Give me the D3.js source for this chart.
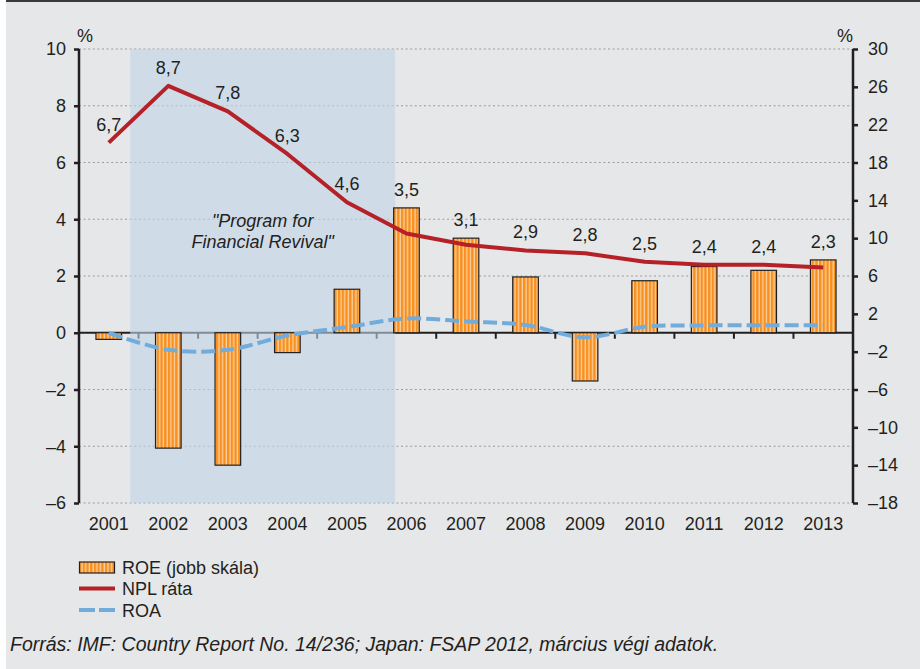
<!DOCTYPE html>
<html>
<head>
<meta charset="utf-8">
<script src="https://cdn.jsdelivr.net/npm/d3@7"></script>
<style>
  body { margin: 0; background: #ffffff; }
  svg { display: block; font-family: "Liberation Sans", Arial, sans-serif; }
</style>
</head>
<body>
<div id="chart"></div>
<script>
// ==== Data ====
const years = [2001, 2002, 2003, 2004, 2005, 2006, 2007, 2008, 2009, 2010, 2011, 2012, 2013];
const roe = [-0.7, -12.2, -14.0, -2.1, 4.6, 13.2, 10.0, 5.9, -5.1, 5.5, 7.0, 6.6, 7.7];   // right scale
const npl = [6.7, 8.7, 7.8, 6.3, 4.6, 3.5, 3.1, 2.9, 2.8, 2.5, 2.4, 2.4, 2.3];           // left scale
const roa = [0.0, -0.6, -0.6, -0.1, 0.2, 0.5, 0.4, 0.27, -0.16, 0.21, 0.26, 0.26, 0.26];  // left scale
const leftTicks = [10, 8, 6, 4, 2, 0, -2, -4, -6];
const rightTicks = [30, 26, 22, 18, 14, 10, 6, 2, -2, -6, -10, -14, -18];
const revivalPeriod = [2001.36, 2005.81];
const revivalLabel = ["\"Program for", "Financial Revival\""];
const legendItems = ["ROE (jobb skála)", "NPL ráta", "ROA"];
const sourceText = "Forrás: IMF: Country Report No. 14/236; Japan: FSAP 2012, március végi adatok.";

// ==== Setup ====
const W = 920, H = 669;
const margin = { top: 49, right: 67, bottom: 166, left: 79 };
const width = W - margin.left - margin.right;
const height = H - margin.top - margin.bottom;
const ink = "#231f20";
const font = "'Liberation Sans', Arial, sans-serif";
const fs = 18;

const root = d3.select("#chart").append("svg")
    .attr("width", W)
    .attr("height", H);

root.append("rect").attr("x", 6).attr("y", 0).attr("width", W - 6).attr("height", H).attr("fill", "#e6e7e9");
root.append("rect").attr("x", 6).attr("y", 0).attr("width", W - 6).attr("height", 2).attr("fill", "#3a3a3c");

const defs = root.append("defs");
const pat = defs.append("pattern")
    .attr("id", "stripes")
    .attr("patternUnits", "userSpaceOnUse")
    .attr("width", 3.7).attr("height", 10);
pat.append("rect").attr("width", 3.7).attr("height", 10).attr("fill", "#f7901e");
pat.append("rect").attr("x", 2.4).attr("width", 1.3).attr("height", 10).attr("fill", "#fcd1a2");

const svg = root.append("g").attr("transform", `translate(${margin.left},${margin.top})`);

// ==== Scales ====
const x = d3.scaleBand().domain(years).range([0, width]).paddingInner(0.57).paddingOuter(0.285);
const xYear = d3.scaleLinear().domain([years[0] - 0.5, years[years.length - 1] + 0.5]).range([0, width]);
const yL = d3.scaleLinear().domain([-6, 10]).range([height, 0]);
const yR = d3.scaleLinear().domain([-18, 30]).range([height, 0]);
const minus = d => d < 0 ? "\u2013" + Math.abs(d) : String(d);

// gridlines (dotted)
svg.append("g").selectAll("line")
    .data(leftTicks.filter(d => d !== 0))
    .join("line")
    .attr("x1", 0).attr("x2", width)
    .attr("y1", d => yL(d)).attr("y2", d => yL(d))
    .attr("stroke", "#9b9c9e").attr("stroke-width", 1.2)
    .attr("stroke-dasharray", "2,2.6");

// zero line and category ticks
svg.append("line")
    .attr("x1", 0).attr("x2", width)
    .attr("y1", yL(0)).attr("y2", yL(0))
    .attr("stroke", ink).attr("stroke-width", 2);
svg.append("g").selectAll("line")
    .data(years.slice(0, -1))
    .join("line")
    .attr("x1", d => xYear(d + 0.5)).attr("x2", d => xYear(d + 0.5))
    .attr("y1", yL(0)).attr("y2", yL(0) + 6)
    .attr("stroke", ink).attr("stroke-width", 2);

// shaded programme period
svg.append("rect")
    .attr("x", xYear(revivalPeriod[0]))
    .attr("width", xYear(revivalPeriod[1]) - xYear(revivalPeriod[0]))
    .attr("y", 0).attr("height", height)
    .attr("fill", "#c0d5e7").attr("fill-opacity", 0.6);

const midShade = (xYear(revivalPeriod[0]) + xYear(revivalPeriod[1])) / 2;
svg.append("g").selectAll("text")
    .data(revivalLabel)
    .join("text")
    .attr("x", midShade)
    .attr("y", (d, i) => 178 + i * 20.5)
    .attr("text-anchor", "middle")
    .attr("font-style", "italic")
    .attr("font-size", fs)
    .attr("fill", ink)
    .text(d => d);

// ==== Bars (ROE, right scale) ====
svg.append("g").selectAll("rect")
    .data(years.map((yr, i) => ({ yr, v: roe[i] })))
    .join("rect")
    .attr("x", d => x(d.yr))
    .attr("width", x.bandwidth())
    .attr("y", d => yR(Math.max(0, d.v)))
    .attr("height", d => Math.abs(yR(d.v) - yR(0)))
    .attr("fill", "url(#stripes)")
    .attr("stroke", ink).attr("stroke-width", 1.2);

// ==== Lines ====
const cx = (d, i) => x(years[i]) + x.bandwidth() / 2;

svg.append("path")
    .datum(roa)
    .attr("fill", "none")
    .attr("stroke", "#72acdb")
    .attr("stroke-width", 4)
    .attr("stroke-dasharray", "14,5")
    .attr("d", d3.line().x(cx).y(d => yL(d)).curve(d3.curveCatmullRom));

svg.append("path")
    .datum(npl)
    .attr("fill", "none")
    .attr("stroke", "#b52127")
    .attr("stroke-width", 4)
    .attr("stroke-linejoin", "round")
    .attr("d", d3.line().x(cx).y(d => yL(d)));

// data labels for NPL
svg.append("g").selectAll("text")
    .data(npl)
    .join("text")
    .attr("x", cx)
    .attr("y", (d, i) => Math.min(yL(d), roe[i] > 0 ? yR(roe[i]) : Infinity) - 12)
    .attr("text-anchor", "middle")
    .attr("font-size", fs)
    .attr("fill", ink)
    .text(d => d.toFixed(1).replace(".", ","));

// ==== Axes ====
const leftAxis = svg.append("g")
    .call(d3.axisLeft(yL).tickValues(leftTicks).tickSize(5).tickPadding(8).tickFormat(minus));
const rightAxis = svg.append("g")
    .attr("transform", `translate(${width},0)`)
    .call(d3.axisRight(yR).tickValues(rightTicks).tickSize(5).tickPadding(10).tickFormat(minus));
[leftAxis, rightAxis].forEach(g => {
    g.select(".domain").attr("stroke", ink).attr("stroke-width", 2.5).attr("d", `M0,0V${height}`);
    g.selectAll(".tick line").attr("stroke", ink).attr("stroke-width", 2.5);
    g.selectAll("text").attr("font-size", fs).attr("fill", ink).attr("font-family", font);
});

const xAxis = svg.append("g")
    .attr("transform", `translate(0,${height})`)
    .call(d3.axisBottom(x).tickSize(0).tickPadding(14));
xAxis.select(".domain").remove();
xAxis.selectAll("text").attr("font-size", fs).attr("fill", ink).attr("font-family", font);

svg.append("text").attr("x", 6).attr("y", -7).attr("text-anchor", "middle")
    .attr("font-size", fs).attr("fill", ink).text("%");
svg.append("text").attr("x", width - 8).attr("y", -7).attr("text-anchor", "middle")
    .attr("font-size", fs).attr("fill", ink).text("%");

// ==== Legend ====
const legend = root.append("g").attr("transform", `translate(${margin.left},567)`);
legend.append("rect")
    .attr("x", 0.5).attr("y", -5).attr("width", 35).attr("height", 11)
    .attr("fill", "url(#stripes)").attr("stroke", ink).attr("stroke-width", 1.2);
legend.append("line")
    .attr("x1", 0).attr("x2", 36).attr("y1", 21.5).attr("y2", 21.5)
    .attr("stroke", "#b52127").attr("stroke-width", 4);
legend.append("line")
    .attr("x1", 0).attr("x2", 36).attr("y1", 43).attr("y2", 43)
    .attr("stroke", "#72acdb").attr("stroke-width", 4).attr("stroke-dasharray", "16,4");
legend.selectAll("text.lbl")
    .data(legendItems)
    .join("text")
    .attr("class", "lbl")
    .attr("x", 43)
    .attr("y", (d, i) => i * 21.5 + 6.5)
    .attr("font-size", fs)
    .attr("fill", ink)
    .text(d => d);

root.append("text")
    .attr("x", 10).attr("y", 651)
    .attr("font-size", 19.5)
    .attr("font-style", "italic")
    .attr("fill", ink)
    .text(sourceText);
</script>
</body>
</html>
